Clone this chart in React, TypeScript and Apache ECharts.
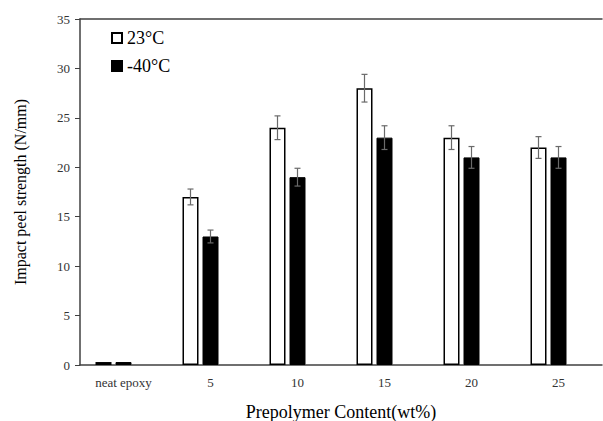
import React, { useEffect, useRef } from "react";
import * as echarts from "echarts";

// Prepolymer content groups
const categories = ["neat epoxy", "5", "10", "15", "20", "25"];
// Impact peel strength (N/mm) at 23°C and -40°C
const strength23 = [0.3, 17, 24, 28, 23, 22];
const strengthMinus40 = [0.3, 13, 19, 23, 21, 21];
// Standard deviations
const err23 = [0, 0.8, 1.2, 1.4, 1.2, 1.1];
const errMinus40 = [0, 0.65, 0.9, 1.2, 1.1, 1.1];
// Empty third slot in each group (keeps the spacing of the original workbook)
const blankSlot = [null, null, null, null, null, null];
const yTicks = { min: 0, max: 35, interval: 5 };

const FONT = "'Liberation Serif', 'Times New Roman', serif";
const AXIS_COLOR = "#404040";

function errorSeries(name: string, values: number[], errs: number[], offsetPx: number) {
  const data = values
    .map((v, i) => [i, v - errs[i], v + errs[i], errs[i]])
    .filter((d) => d[3] > 0);
  return {
    name,
    type: "custom",
    z: 5,
    silent: true,
    encode: { x: 0, y: [1, 2] },
    data,
    renderItem: (params: any, api: any) => {
      const idx = api.value(0);
      const lo = api.coord([idx, api.value(1)]);
      const hi = api.coord([idx, api.value(2)]);
      const x = lo[0] + offsetPx;
      const cap = 3;
      const style = { stroke: "#6a6a6a", lineWidth: 1.2 };
      return {
        type: "group",
        children: [
          { type: "line", shape: { x1: x, y1: lo[1], x2: x, y2: hi[1] }, style },
          { type: "line", shape: { x1: x - cap, y1: lo[1], x2: x + cap, y2: lo[1] }, style },
          { type: "line", shape: { x1: x - cap, y1: hi[1], x2: x + cap, y2: hi[1] }, style },
        ],
      };
    },
  };
}

export default function App() {
  const ref = useRef<HTMLDivElement>(null);

  useEffect(() => {
    if (!ref.current) return;
    const chart = echarts.init(ref.current, null, { renderer: "svg" });
    const barWidth = 16;
    const gapPx = 4;
    chart.setOption({
      animation: false,
      backgroundColor: "#ffffff",
      grid: { left: 80, right: 1, top: 19, bottom: 56, outerBoundsMode: "none", containLabel: false },
      legend: {
        data: [
          { name: "23°C", icon: "rect" },
          { name: "-40°C", icon: "rect" },
        ],
        orient: "vertical",
        left: 106,
        top: 24,
        itemWidth: 10,
        itemHeight: 10,
        itemGap: 10,
        textStyle: { fontFamily: FONT, fontSize: 18, color: "#000" },
      },
      xAxis: [
        {
          type: "category",
          data: categories,
          boundaryGap: true,
          axisLine: { show: true, lineStyle: { color: AXIS_COLOR, width: 1.5 } },
          axisTick: { show: false },
          axisLabel: { fontFamily: FONT, fontSize: 13, color: "#333", margin: 11 },
          name: "Prepolymer Content(wt%)",
          nameLocation: "middle",
          nameGap: 38,
          nameTextStyle: { fontFamily: FONT, fontSize: 18, color: "#000" },
        },
        {
          type: "category",
          data: categories,
          position: "top",
          axisLine: { show: true, lineStyle: { color: AXIS_COLOR, width: 1.5 } },
          axisTick: { show: false },
          axisLabel: { show: false },
        },
      ],
      yAxis: {
        type: "value",
        min: yTicks.min,
        max: yTicks.max,
        interval: yTicks.interval,
        splitLine: { show: false },
        axisLine: { show: true, lineStyle: { color: AXIS_COLOR, width: 1.5 } },
        axisTick: { show: true, inside: false, length: 5, lineStyle: { color: AXIS_COLOR } },
        axisLabel: { fontFamily: FONT, fontSize: 13, color: "#333", margin: 10 },
        name: "Impact peel strength (N/mm)",
        nameLocation: "middle",
        nameGap: 52,
        nameRotate: 90,
        nameTextStyle: { fontFamily: FONT, fontSize: 16, color: "#000" },
      },
      series: [
        {
          name: "23°C",
          type: "bar",
          data: strength23,
          barWidth,
          barGap: `${(gapPx / barWidth) * 100}%`,
          itemStyle: { color: "#ffffff", borderColor: "#000", borderWidth: 1.5 },
        },
        {
          name: "-40°C",
          type: "bar",
          data: strengthMinus40,
          barWidth,
          barGap: `${(gapPx / barWidth) * 100}%`,
          itemStyle: { color: "#000000", borderColor: "#000", borderWidth: 1 },
        },
        {
          name: "blank",
          type: "bar",
          data: blankSlot,
          barWidth,
          barGap: `${(gapPx / barWidth) * 100}%`,
          itemStyle: { color: "transparent" },
        },
        errorSeries("err23", strength23, err23, -(barWidth + gapPx)),
        errorSeries("errMinus40", strengthMinus40, errMinus40, 0),
      ],
    });
    return () => chart.dispose();
  }, []);

  return (
    <div
      ref={ref}
      style={{ position: "fixed", left: 0, top: 0, width: 603, height: 421 }}
    />
  );
}
